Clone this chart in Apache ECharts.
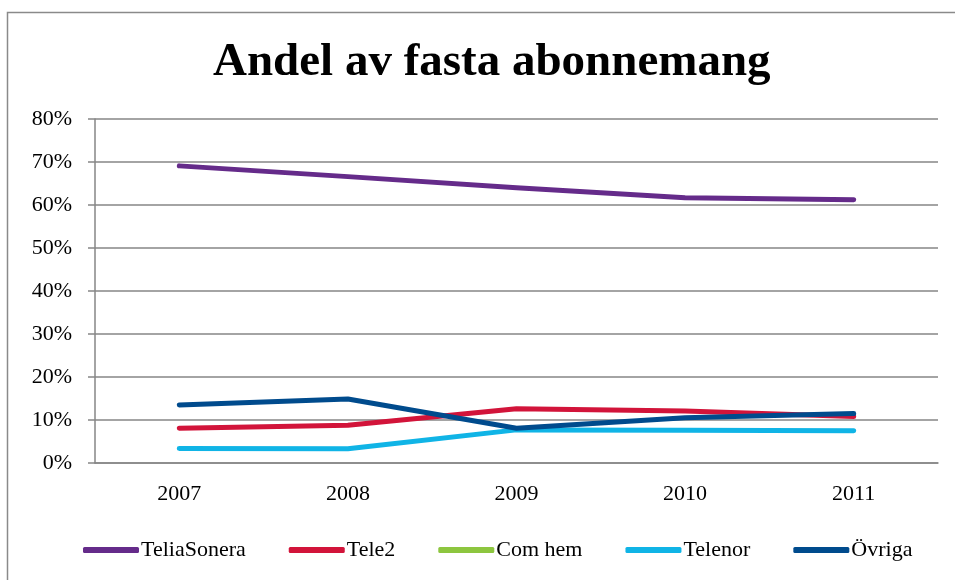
<!DOCTYPE html>
<html>
<head>
<meta charset="utf-8">
<script src="https://cdn.jsdelivr.net/npm/echarts@6/dist/echarts.min.js"></script>
<style>
  html, body { margin: 0; padding: 0; background: #fff; overflow: hidden; }
  #chart { width: 955px; height: 580px; }
</style>
</head>
<body>
<div id="chart"></div>
<script>
    // years on the x axis
    var years = ['2007', '2008', '2009', '2010', '2011'];
    // share of fixed subscriptions, percent
    var teliaSonera = [69.1, 66.6, 64.0, 61.7, 61.2];
    var tele2 = [8.1, 8.8, 12.6, 12.1, 10.8];
    var comHem = [null, null, null, null, null];
    var telenor = [3.4, 3.3, 7.7, 7.6, 7.5];
    var ovriga = [13.5, 14.9, 8.1, 10.5, 11.5];

    var serif = '"Liberation Serif", "DejaVu Serif", serif';

    function line(name, data, color) {
        return {
            name: name,
            type: 'line',
            data: data,
            symbol: 'none',
            showSymbol: false,
            lineStyle: { color: color, width: 5, cap: 'round', join: 'round' },
            itemStyle: { color: color }
        };
    }

    var myChart = echarts.init(document.getElementById('chart'));
    var options = {
        animation: false,
        backgroundColor: '#fff',
        title: {
            text: 'Andel av fasta abonnemang',
            left: 208,
            top: 34,
            textStyle: { fontFamily: serif, fontWeight: 'bold', fontSize: 47, color: '#000' }
        },
        graphic: [{
            type: 'rect',
            shape: { x: 7.5, y: 12.5, width: 1000, height: 700 },
            style: { fill: null, stroke: '#8a8a8a', lineWidth: 1.5 },
            silent: true
        }],
        legend: {
            bottom: 14,
            left: 78,
            itemGap: 43,
            itemWidth: 56,
            itemHeight: 6,
            icon: 'roundRect',
            textStyle: { fontFamily: serif, fontSize: 22, color: '#000', padding: [0, 0, 0, -3] },
            data: ['TeliaSonera', 'Tele2', 'Com hem', 'Telenor', 'Övriga']
        },
        grid: { left: 95, right: 17, top: 119, bottom: 117 },
        xAxis: {
            type: 'category',
            data: years,
            boundaryGap: true,
            axisLine: { lineStyle: { color: '#868686', width: 1.5 } },
            axisTick: { length: 6, lineStyle: { color: '#868686', width: 1.5 } },
            axisLabel: { fontFamily: serif, fontSize: 22, color: '#000', margin: 20 }
        },
        yAxis: {
            type: 'value',
            min: 0,
            max: 80,
            interval: 10,
            axisLine: { show: true, lineStyle: { color: '#868686', width: 1.5 } },
            axisTick: { show: true, length: 7, lineStyle: { color: '#868686', width: 1.5 } },
            splitLine: { lineStyle: { color: '#868686', width: 1.5 } },
            axisLabel: { fontFamily: serif, fontSize: 22, color: '#000', margin: 23, formatter: '{value}%' }
        },
        series: [
            line('TeliaSonera', teliaSonera, '#652b8a'),
            line('Tele2', tele2, '#d2143a'),
            line('Com hem', comHem, '#8dc63f'),
            line('Telenor', telenor, '#10b4e6'),
            line('Övriga', ovriga, '#004b8d')
        ]
    };
    myChart.setOption(options);
</script>
</body>
</html>
